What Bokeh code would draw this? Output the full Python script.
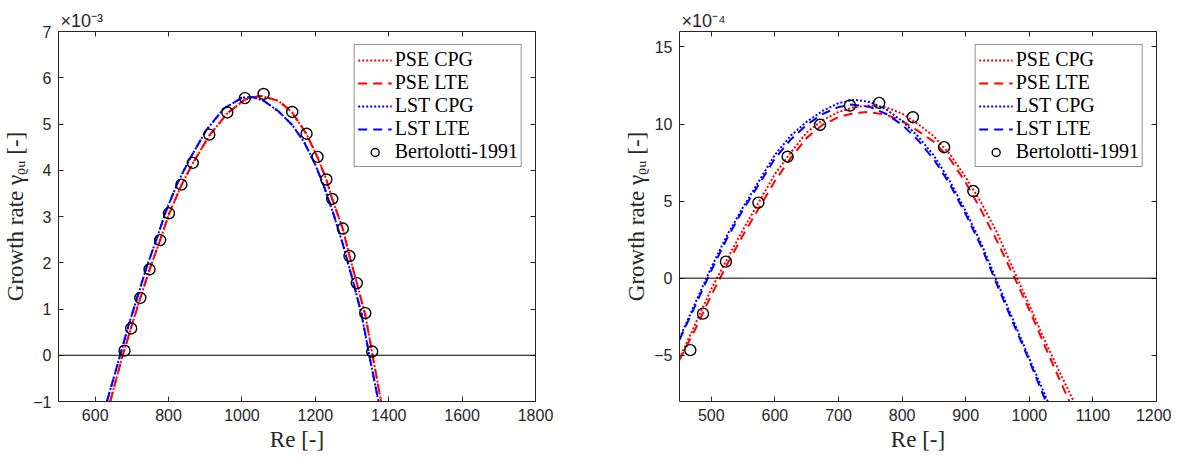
from bokeh.plotting import figure
from bokeh.models import Range1d, LinearAxis, FixedTicker, Span, Title
from bokeh.layouts import row
from bokeh.embed import file_html
from bokeh.resources import INLINE

# ---------------- Left panel data (growth rate in units of 1e-3) ----------------
re_l_pse = [641, 675, 698, 723, 748, 777, 801, 835, 866, 911, 960, 1008, 1050, 1100,
            1137, 1176, 1206, 1230, 1246, 1275, 1293, 1313, 1336, 1356, 1379]
g_l_pse_cpg = [-1.0, 0.0, 0.6, 1.24, 1.85, 2.49, 3.05, 3.68, 4.15, 4.75, 5.23, 5.53, 5.61, 5.5,
               5.25, 4.78, 4.28, 3.8, 3.38, 2.73, 2.15, 1.56, 0.88, 0.0, -1.0]
g_l_pse_lte = [-1.0, 0.0, 0.6, 1.24, 1.85, 2.49, 3.05, 3.68, 4.15, 4.75, 5.23, 5.53, 5.61, 5.5,
               5.25, 4.78, 4.28, 3.8, 3.38, 2.73, 2.15, 1.56, 0.88, 0.0, -1.0]
re_l_lst = [632, 668, 690, 715, 740, 768, 793, 826, 858, 903, 950, 1000, 1030, 1060,
            1100, 1137, 1170, 1200, 1225, 1250, 1275, 1300, 1325, 1347, 1372]
g_l_lst_cpg = [-1.0, 0.0, 0.62, 1.26, 1.9, 2.53, 3.12, 3.75, 4.25, 4.87, 5.33, 5.57, 5.58, 5.5,
               5.27, 4.98, 4.6, 4.12, 3.62, 3.04, 2.4, 1.68, 0.92, 0.0, -1.0]
g_l_lst_lte = [-1.0, 0.0, 0.62, 1.26, 1.9, 2.53, 3.12, 3.75, 4.25, 4.87, 5.33, 5.57, 5.58, 5.5,
               5.27, 4.98, 4.6, 4.12, 3.62, 3.04, 2.4, 1.68, 0.92, 0.0, -1.0]
re_l_bert = [680, 698, 723, 748, 777, 801, 835, 866, 911, 960, 1008, 1059, 1137, 1176,
             1206, 1230, 1246, 1275, 1293, 1313, 1336, 1355]
g_l_bert = [0.1, 0.58, 1.24, 1.855, 2.49, 3.07, 3.69, 4.16, 4.77, 5.25, 5.56, 5.65, 5.26, 4.79,
            4.29, 3.80, 3.38, 2.74, 2.145, 1.56, 0.91, 0.08]
xticks_l = [600, 800, 1000, 1200, 1400, 1600, 1800]
yticks_l = [-1, 0, 1, 2, 3, 4, 5, 6, 7]

# ---------------- Right panel data (growth rate in units of 1e-4) ----------------
re_r_pse_cpg = [450, 475, 500, 525, 550, 575, 600, 625, 650, 675, 700, 725, 750, 775, 800,
                825, 850, 875, 900, 925, 950, 981, 1000, 1025, 1050, 1070]
g_r_pse_cpg = [-5.2, -2.95, -0.7, 1.25, 3.15, 4.95, 6.75, 8.15, 9.45, 10.25, 10.78, 11.1, 11.2,
               11.08, 10.68, 10.0, 9.2, 8.05, 6.55, 4.85, 2.9, 0.0, -1.75, -4.1, -6.3, -8.0]
re_r_pse_lte = [450, 475, 500, 525, 550, 575, 600, 625, 650, 675, 700, 725, 746, 775, 800,
                825, 850, 875, 900, 925, 950, 977, 1000, 1025, 1050, 1063]
g_r_pse_lte = [-5.3, -3.3, -1.1, 0.9, 2.8, 4.55, 6.3, 7.8, 9.1, 9.95, 10.45, 10.72, 10.78,
               10.6, 10.2, 9.55, 8.85, 7.75, 6.2, 4.35, 2.35, 0.0, -2.05, -4.45, -6.8, -8.0]
re_r_lst_cpg = [450, 475, 500, 525, 550, 575, 600, 625, 650, 675, 700, 725, 750, 775, 800,
                825, 850, 875, 900, 925, 947, 975, 1000, 1029]
g_r_lst_cpg = [-3.9, -1.6, 0.7, 2.8, 4.6, 6.3, 8.0, 9.25, 10.15, 10.85, 11.35, 11.58, 11.42,
               10.95, 10.2, 9.2, 7.95, 6.3, 4.35, 2.2, 0.0, -2.75, -5.2, -8.0]
re_r_lst_lte = [450, 475, 500, 525, 550, 575, 600, 625, 650, 675, 700, 720, 750, 775, 800,
                825, 850, 875, 900, 925, 945, 975, 1000, 1026]
g_r_lst_lte = [-4.0, -1.75, 0.5, 2.6, 4.45, 6.1, 7.75, 9.0, 9.95, 10.65, 11.1, 11.26, 11.1,
               10.65, 9.95, 8.95, 7.7, 6.1, 4.15, 2.0, 0.0, -2.95, -5.35, -8.0]
re_r_bert = [467, 487, 523, 574, 620, 671, 718, 764, 817, 866, 912]
g_r_bert = [-4.67, -2.3, 1.07, 4.9, 7.88, 9.95, 11.2, 11.37, 10.44, 8.5, 5.65]
xticks_r = [500, 600, 700, 800, 900, 1000, 1100, 1200]
yticks_r = [-5, 0, 5, 10, 15]

labels = ["PSE CPG", "PSE LTE", "LST CPG", "LST LTE", "Bertolotti-1991"]
x_label = "Re [-]"
y_label = "Growth rate \u03b3\u1d68\u1d64 [-]"
expo_l = "\u00d710\u207b\u00b3"
expo_r = "\u00d710\u207b\u2074"

AX = "#262626"
RED = "#ff0000"
BLUE = "#0000ff"


def style_axis(ax, ticker, show_labels=True):
    ax.ticker = FixedTicker(ticks=ticker)
    ax.major_tick_in = 5
    ax.major_tick_out = 0
    ax.minor_tick_in = 0
    ax.minor_tick_out = 0
    ax.axis_line_color = AX
    ax.axis_line_width = 1
    ax.major_tick_line_color = AX
    ax.major_label_text_font = "Liberation Sans"
    ax.major_label_text_font_size = "16px"
    ax.major_label_text_color = AX
    ax.major_label_standoff = 7
    ax.axis_label_text_font = "Liberation Serif"
    ax.axis_label_text_font_size = "23px"
    ax.axis_label_text_font_style = "normal"
    ax.axis_label_text_color = AX
    if not show_labels:
        ax.major_label_overrides = {t: "" for t in ticker}


def make_panel(xr, yr, xt, yt, bl, br, curves, pts, expo, ylab_standoff):
    p = figure(output_backend="svg", toolbar_location=None,
               frame_width=477, frame_height=370,
               x_range=Range1d(*xr), y_range=Range1d(*yr),
               min_border_left=bl, min_border_right=br,
               min_border_top=31, min_border_bottom=50,
               title=Title(text=expo, align="left", offset=2, standoff=2,
                           text_font="Liberation Sans", text_font_size="18px",
                           text_font_style="normal", text_color=AX))
    p.xgrid.visible = False
    p.ygrid.visible = False
    p.outline_line_color = None
    p.background_fill_color = "white"
    p.border_fill_color = "white"

    style_axis(p.xaxis[0], xt)
    style_axis(p.yaxis[0], yt)
    p.xaxis[0].axis_label = x_label
    p.yaxis[0].axis_label = y_label
    p.xaxis[0].axis_label_standoff = 3
    p.yaxis[0].axis_label_standoff = ylab_standoff

    top = LinearAxis()
    style_axis(top, xt, show_labels=False)
    top.major_label_standoff = 0
    top.major_label_text_font_size = "1px"
    p.add_layout(top, "above")
    right = LinearAxis()
    style_axis(right, yt, show_labels=False)
    right.major_label_standoff = 0
    right.major_label_text_font_size = "1px"
    p.add_layout(right, "right")

    p.add_layout(Span(location=0, dimension="width", line_color="black", line_width=1))

    for (xs, ys, color, dash, lab) in curves:
        p.line(xs, ys, line_color=color, line_width=2, line_dash=dash, legend_label=lab)
    p.scatter(pts[0], pts[1], marker="circle", size=11, fill_color=None,
              line_color="black", line_width=1.4, legend_label=labels[4])

    lg = p.legend[0]
    lg.location = "top_right"
    lg.margin = 13
    lg.padding = 3
    lg.spacing = 0
    lg.glyph_width = 34
    lg.glyph_height = 20
    lg.label_height = 20
    lg.label_standoff = 3
    lg.label_text_font = "Liberation Serif"
    lg.label_text_font_size = "20px"
    lg.label_text_color = "black"
    lg.border_line_color = AX
    lg.border_line_width = 1
    lg.background_fill_alpha = 1.0
    return p


left = make_panel((500, 1800), (-1, 7), xticks_l, yticks_l, 53, 70,
                  [(re_l_pse, g_l_pse_cpg, RED, "2 2", labels[0]),
                   (re_l_pse, g_l_pse_lte, RED, "9 6", labels[1]),
                   (re_l_lst, g_l_lst_cpg, BLUE, "2 2", labels[2]),
                   (re_l_lst, g_l_lst_lte, BLUE, "9 6", labels[3])],
                  (re_l_bert, g_l_bert), expo_l, 2)

right = make_panel((450, 1200), (-8, 16), xticks_r, yticks_r, 74, 15,
                   [(re_r_pse_cpg, g_r_pse_cpg, RED, "2 2", labels[0]),
                    (re_r_pse_lte, g_r_pse_lte, RED, "9 6", labels[1]),
                    (re_r_lst_cpg, g_r_lst_cpg, BLUE, "2 2", labels[2]),
                    (re_r_lst_lte, g_r_lst_lte, BLUE, "9 6", labels[3])],
                   (re_r_bert, g_r_bert), expo_r, 2)

layout = row(left, right)
open("out.html", "w").write(file_html(layout, INLINE))
